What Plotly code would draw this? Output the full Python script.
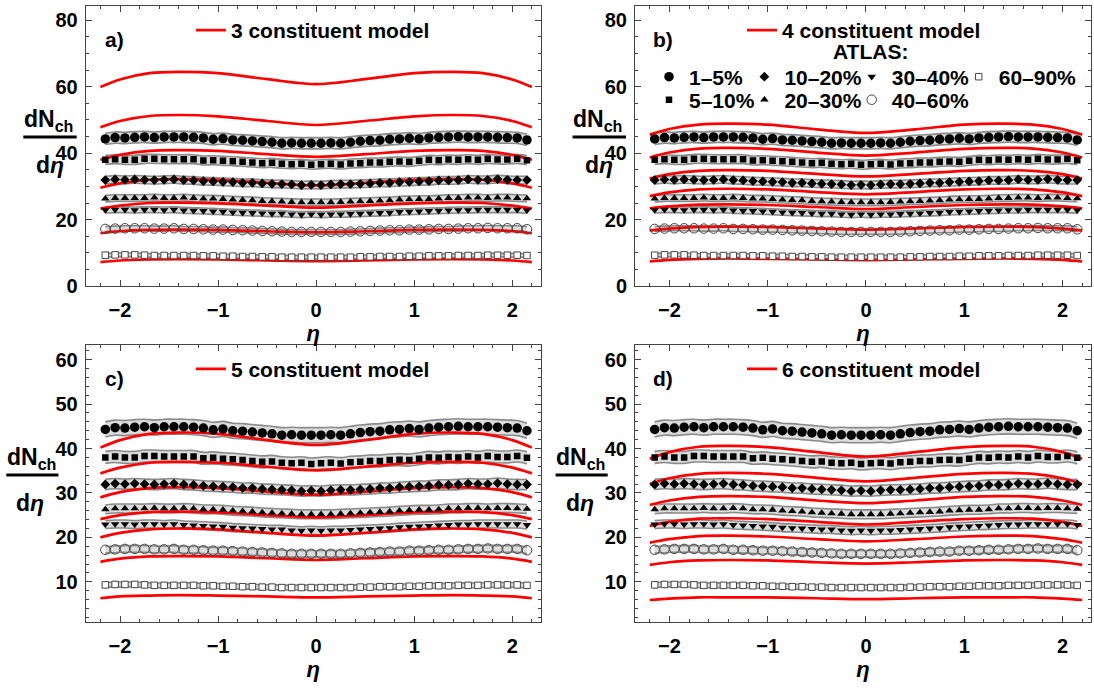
import plotly.graph_objects as go

W, H = 1094, 690
FONT = "Liberation Sans, Arial, sans-serif"

# ---------------- data ----------------
cent_labels = ["1–5%", "5–10%", "10–20%", "20–30%", "30–40%", "40–60%", "60–90%"]

eta_data = [-2.15, -2.05, -1.95, -1.85, -1.75, -1.65, -1.55, -1.45, -1.35, -1.25, -1.15,
            -1.05, -0.95, -0.85, -0.75, -0.65, -0.55, -0.45, -0.35, -0.25, -0.15, -0.05,
            0.05, 0.15, 0.25, 0.35, 0.45, 0.55, 0.65, 0.75, 0.85, 0.95, 1.05,
            1.15, 1.25, 1.35, 1.45, 1.55, 1.65, 1.75, 1.85, 1.95, 2.05, 2.15]

atlas_1_5 = [44.3, 44.7, 44.6, 44.8, 44.9, 44.7, 44.9, 44.9, 44.9, 44.8, 44.6, 44.2, 44.4, 44.0, 43.9,
             43.7, 43.5, 43.3, 43.0, 43.1, 43.0, 43.0, 43.0, 43.1, 43.0, 43.3, 43.6, 43.8, 43.9, 44.2,
             44.3, 44.5, 44.3, 44.6, 44.8, 44.9, 45.0, 44.9, 44.9, 44.9, 44.8, 44.7, 44.6, 44.0]
atlas_5_10 = [38.0, 38.2, 38.0, 38.0, 38.3, 38.3, 38.2, 38.2, 38.2, 38.2, 37.8, 37.9, 37.7, 37.6, 37.4,
              37.2, 37.0, 37.1, 36.8, 36.7, 36.8, 36.5, 36.7, 36.8, 36.6, 36.9, 37.0, 37.2, 37.2, 37.4,
              37.5, 37.4, 37.7, 38.0, 37.9, 38.1, 38.0, 38.2, 38.0, 38.3, 38.1, 38.1, 38.3, 37.9]
atlas_10_20 = [31.9, 32.1, 32.0, 32.1, 32.0, 31.9, 32.0, 32.1, 31.9, 31.8, 31.6, 31.5, 31.4, 31.3, 31.1,
               31.1, 30.9, 30.8, 30.7, 30.6, 30.4, 30.5, 30.4, 30.6, 30.7, 30.7, 30.8, 30.9, 31.1, 31.1,
               31.3, 31.4, 31.5, 31.6, 31.8, 31.8, 31.9, 32.1, 32.0, 32.0, 32.2, 32.0, 31.9, 31.9]
atlas_20_30 = [26.3, 26.5, 26.5, 26.5, 26.5, 26.6, 26.5, 26.5, 26.6, 26.5, 26.3, 26.3, 26.2, 26.0, 25.9,
               25.8, 25.6, 25.5, 25.4, 25.3, 25.2, 25.2, 25.2, 25.2, 25.3, 25.4, 25.5, 25.6, 25.7, 25.8,
               26.0, 26.1, 26.2, 26.2, 26.3, 26.5, 26.5, 26.6, 26.6, 26.5, 26.6, 26.6, 26.5, 26.4]
atlas_30_40 = [22.9, 23.0, 23.0, 22.9, 23.0, 23.0, 22.9, 23.0, 22.8, 22.7, 22.6, 22.5, 22.4, 22.2, 22.1,
               22.0, 21.9, 21.8, 21.8, 21.6, 21.5, 21.6, 21.5, 21.6, 21.6, 21.7, 21.8, 21.9, 22.0, 22.1,
               22.3, 22.4, 22.5, 22.6, 22.7, 22.8, 22.9, 22.9, 23.0, 23.0, 23.0, 23.0, 23.0, 22.8]
atlas_40_60 = [17.2, 17.3, 17.4, 17.4, 17.4, 17.3, 17.3, 17.4, 17.2, 17.2, 17.1, 17.0, 17.0, 16.9, 16.8,
               16.7, 16.6, 16.5, 16.4, 16.3, 16.3, 16.3, 16.3, 16.3, 16.3, 16.4, 16.5, 16.6, 16.7, 16.8,
               16.8, 17.0, 17.0, 17.1, 17.2, 17.2, 17.3, 17.4, 17.4, 17.5, 17.4, 17.4, 17.4, 17.1]
atlas_60_90 = [9.3, 9.4, 9.4, 9.4, 9.3, 9.2, 9.2, 9.2, 9.2, 9.2, 9.1, 9.1, 9.0, 9.0, 8.9,
               8.9, 8.8, 8.8, 8.7, 8.7, 8.7, 8.7, 8.7, 8.7, 8.7, 8.7, 8.8, 8.8, 8.9, 8.9,
               8.9, 9.0, 9.0, 9.1, 9.1, 9.1, 9.2, 9.2, 9.2, 9.3, 9.3, 9.3, 9.3, 9.2]
atlas_sys_err = [1.7, 1.35, 1.15, 1.0, 0.9, 0.75, 0.55]

eta_model = [-2.2, -2.0, -1.7, -1.4, -1.0, -0.5, 0.0, 0.5, 1.0, 1.4, 1.7, 2.0, 2.2]

model_3 = [
    [59.9, 62.2, 64.1, 64.5, 64.1, 62.3, 60.8, 62.3, 64.1, 64.5, 64.1, 62.2, 59.9],
    [47.8, 49.7, 51.2, 51.5, 51.1, 49.7, 48.5, 49.7, 51.1, 51.5, 51.2, 49.7, 47.8],
    [38.0, 39.5, 40.7, 40.9, 40.7, 39.7, 38.9, 39.7, 40.7, 40.9, 40.7, 39.5, 38.0],
    [29.6, 30.9, 32.0, 32.2, 32.0, 31.1, 30.3, 31.1, 32.0, 32.2, 32.0, 30.9, 29.6],
    [23.3, 24.2, 25.0, 25.1, 24.9, 24.2, 23.6, 24.2, 24.9, 25.1, 25.0, 24.2, 23.3],
    [15.9, 16.5, 16.9, 17.0, 16.9, 16.5, 16.2, 16.5, 16.9, 17.0, 16.9, 16.5, 15.9],
    [7.2, 7.7, 8.0, 8.1, 8.0, 7.7, 7.5, 7.7, 8.0, 8.1, 8.0, 7.7, 7.2],
]
model_4 = [
    [45.6, 47.3, 48.6, 48.9, 48.6, 47.2, 46.1, 47.2, 48.6, 48.9, 48.6, 47.3, 45.6],
    [38.7, 40.2, 41.4, 41.6, 41.3, 40.2, 39.3, 40.2, 41.3, 41.6, 41.4, 40.2, 38.7],
    [32.4, 33.7, 34.7, 34.9, 34.7, 33.8, 33.0, 33.8, 34.7, 34.9, 34.7, 33.7, 32.4],
    [27.1, 28.2, 29.1, 29.3, 29.1, 28.3, 27.6, 28.3, 29.1, 29.3, 29.1, 28.2, 27.1],
    [23.4, 24.0, 24.5, 24.6, 24.4, 23.8, 23.2, 23.8, 24.4, 24.6, 24.5, 24.0, 23.4],
    [16.7, 17.3, 17.8, 17.9, 17.8, 17.4, 17.0, 17.4, 17.8, 17.9, 17.8, 17.3, 16.7],
    [7.4, 7.9, 8.2, 8.3, 8.2, 8.0, 7.8, 8.0, 8.2, 8.3, 8.2, 7.9, 7.4],
]
model_5 = [
    [40.2, 41.9, 43.3, 43.6, 43.3, 41.9, 40.8, 41.9, 43.3, 43.6, 43.3, 41.9, 40.2],
    [34.4, 35.7, 36.8, 37.0, 36.8, 35.9, 35.1, 35.9, 36.8, 37.0, 36.8, 35.7, 34.4],
    [29.0, 30.2, 31.1, 31.3, 31.1, 30.3, 29.6, 30.3, 31.1, 31.3, 31.1, 30.2, 29.0],
    [24.1, 25.0, 25.7, 25.8, 25.6, 25.0, 24.5, 25.0, 25.6, 25.8, 25.7, 25.0, 24.1],
    [20.0, 21.0, 21.8, 22.0, 21.8, 21.0, 20.4, 21.0, 21.8, 22.0, 21.8, 21.0, 20.0],
    [14.5, 15.2, 15.7, 15.8, 15.7, 15.3, 14.9, 15.3, 15.7, 15.8, 15.7, 15.2, 14.5],
    [6.3, 6.7, 6.9, 7.0, 6.9, 6.7, 6.5, 6.7, 6.9, 7.0, 6.9, 6.7, 6.3],
]
model_6 = [
    [37.7, 39.2, 40.4, 40.6, 40.3, 39.2, 38.2, 39.2, 40.3, 40.6, 40.4, 39.2, 37.7],
    [32.0, 33.3, 34.3, 34.5, 34.3, 33.4, 32.6, 33.4, 34.3, 34.5, 34.3, 33.3, 32.0],
    [27.3, 28.3, 29.1, 29.3, 29.1, 28.3, 27.7, 28.3, 29.1, 29.3, 29.1, 28.3, 27.3],
    [22.6, 23.5, 24.2, 24.3, 24.1, 23.5, 22.9, 23.5, 24.1, 24.3, 24.2, 23.5, 22.6],
    [18.8, 19.6, 20.3, 20.4, 20.2, 19.6, 19.1, 19.6, 20.2, 20.4, 20.3, 19.6, 18.8],
    [13.8, 14.4, 14.8, 14.9, 14.8, 14.4, 14.1, 14.4, 14.8, 14.9, 14.8, 14.4, 13.8],
    [5.9, 6.2, 6.5, 6.5, 6.5, 6.3, 6.1, 6.3, 6.5, 6.5, 6.5, 6.2, 5.9],
]

panel_tags = ["a)", "b)", "c)", "d)"]
model_names = ["3 constituent model", "4 constituent model",
               "5 constituent model", "6 constituent model"]
models = [model_3, model_4, model_5, model_6]
atlas_series = [atlas_1_5, atlas_5_10, atlas_10_20, atlas_20_30,
                atlas_30_40, atlas_40_60, atlas_60_90]

x_ticks = [-2, -1, 0, 1, 2]
x_tick_text = ["−2", "−1", "0", "1", "2"]
y_ticks_top = [0, 20, 40, 60, 80]
y_ticks_bot = [10, 20, 30, 40, 50, 60]

# ---------------- styles ----------------
marker_styles = [
    dict(symbol="circle", size=9.5, color="black"),
    dict(symbol="square", size=6.5, color="black"),
    dict(symbol="diamond", size=7.5, color="black"),
    dict(symbol="triangle-up", size=7.5, color="black"),
    dict(symbol="triangle-down", size=7.5, color="black"),
    dict(symbol="circle-open", size=9.5, color="#444444", line=dict(width=1)),
    dict(symbol="square", size=6.5, color="white", line=dict(width=1, color="#444444")),
]


def px_x(p):
    return p / W


def px_y(p):
    return 1 - p / H


dom_x = [[px_x(85.7), px_x(540.7)], [px_x(635), px_x(1091)]]
dom_y_top = [px_y(290.7), px_y(6.5)]
dom_y_bot = [px_y(632.3), px_y(350.6)]

panels = [
    dict(xd=dom_x[0], yd=dom_y_top, yr=[0, 84.2], yt=y_ticks_top, ymd=5),
    dict(xd=dom_x[1], yd=dom_y_top, yr=[0, 84.2], yt=y_ticks_top, ymd=5),
    dict(xd=dom_x[0], yd=dom_y_bot, yr=[0.9, 63.3], yt=y_ticks_bot, ymd=2),
    dict(xd=dom_x[1], yd=dom_y_bot, yr=[0.9, 63.3], yt=y_ticks_bot, ymd=2),
]

fig = go.Figure()
legend_ids = ["legend", "legend2", "legend3", "legend4"]
atlas_legend_ids = [f"legend{5+k}" for k in range(7)]

for p in range(4):
    xa = "x" if p == 0 else f"x{p+1}"
    ya = "y" if p == 0 else f"y{p+1}"
    for k, ser in enumerate(atlas_series):
        err = atlas_sys_err[k]
        lo = [v - err for v in ser]
        hi = [v + err for v in ser]
        fig.add_trace(go.Scatter(x=eta_data, y=lo, xaxis=xa, yaxis=ya, mode="lines",
                                 line=dict(color="#8a8a8a", width=1.6, shape="spline"),
                                 showlegend=False, hoverinfo="skip"))
        fig.add_trace(go.Scatter(x=eta_data, y=hi, xaxis=xa, yaxis=ya, mode="lines",
                                 line=dict(color="#8a8a8a", width=1.6, shape="spline"),
                                 fill="tonexty", fillcolor="#dcdcdc",
                                 showlegend=False, hoverinfo="skip"))
    for j, curve in enumerate(models[p]):
        fig.add_trace(go.Scatter(x=eta_model, y=curve, xaxis=xa, yaxis=ya, mode="lines",
                                 line=dict(color="#ff0000", width=2.7, shape="spline"),
                                 name=model_names[p], legend=legend_ids[p],
                                 showlegend=(j == 0)))
    for k, ser in enumerate(atlas_series):
        fig.add_trace(go.Scatter(x=eta_data, y=ser, xaxis=xa, yaxis=ya, mode="markers",
                                 marker=marker_styles[k], name=cent_labels[k],
                                 legend=atlas_legend_ids[k],
                                 showlegend=(p == 1)))

axis_common = dict(showline=True, linecolor="#444444", linewidth=1, mirror="allticks",
                   ticks="inside", ticklen=6, tickwidth=1, tickcolor="#444444",
                   showgrid=False, zeroline=False,
                   tickfont=dict(family=FONT, size=20, color="black", weight="bold"))

layout = dict(width=W, height=H, margin=dict(l=0, r=0, t=0, b=0),
              paper_bgcolor="white", plot_bgcolor="white",
              font=dict(family=FONT, color="black"))

for p, pn in enumerate(panels):
    xk = "xaxis" if p == 0 else f"xaxis{p+1}"
    yk = "yaxis" if p == 0 else f"yaxis{p+1}"
    ya = "y" if p == 0 else f"y{p+1}"
    xa = "x" if p == 0 else f"x{p+1}"
    layout[xk] = dict(axis_common, domain=pn["xd"], anchor=ya, range=[-2.35, 2.29],
                      tickvals=x_ticks, ticktext=x_tick_text,
                      ticklabelstandoff=6,
                      minor=dict(dtick=0.2, tick0=0, ticks="inside", ticklen=3,
                                 tickcolor="#444444"),
                      title=dict(text="<i>η</i>", standoff=3,
                                 font=dict(family=FONT, size=22, weight="bold")))
    layout[yk] = dict(axis_common, domain=pn["yd"], anchor=xa, range=pn["yr"],
                      tickvals=pn["yt"], ticklabelstandoff=3,
                      minor=dict(dtick=pn["ymd"], tick0=0, ticks="inside", ticklen=3,
                                 tickcolor="#444444"))

leg_font = dict(family=FONT, size=21, color="black", weight="bold")
model_leg_pos = [(190.9, 31), (742, 31), (190.9, 375.3), (742, 375.3)]
for p, (lx, ly) in enumerate(model_leg_pos):
    layout[legend_ids[p]] = dict(x=px_x(lx), y=px_y(ly), xanchor="left", yanchor="middle",
                                 bgcolor="rgba(0,0,0,0)", font=leg_font, borderwidth=0)

# ATLAS key: column text starts and row centres (px)
col_text_x = [686, 781.4, 888.7, 995.7]
row_y = [78.3, 101.7]
atlas_key_cell = [(0, 0), (0, 1), (1, 0), (1, 1), (2, 0), (2, 1), (3, 0)]
for k, (c, r) in enumerate(atlas_key_cell):
    layout[atlas_legend_ids[k]] = dict(x=px_x(col_text_x[c] - 37), y=px_y(row_y[r]),
                                       xanchor="left", yanchor="middle",
                                       bgcolor="rgba(0,0,0,0)", font=leg_font,
                                       borderwidth=0, orientation="h")

ann = []
tag_pos = [(114, 40), (663.3, 40), (114, 384.5), (663.3, 384.5)]
for p, (tx, ty) in enumerate(tag_pos):
    ann.append(dict(text=panel_tags[p], x=px_x(tx), y=px_y(ty), xref="paper", yref="paper",
                    xanchor="center", yanchor="middle", showarrow=False,
                    font=dict(family=FONT, size=21, color="black", weight="bold")))
ann.append(dict(text="ATLAS:", x=px_x(870), y=px_y(52), xref="paper", yref="paper",
                xanchor="center", yanchor="middle", showarrow=False,
                font=dict(family=FONT, size=21, color="black", weight="bold")))

ylab_pos = [  # (num_x, num_y, den_x, den_y, bar_x0, bar_x1, bar_y)
    (48.3, 122, 50, 168, 23.3, 76.7, 139.3),
    (48.3 + 549.3, 122, 50 + 549.3, 168, 23.3 + 549.3, 76.7 + 549.3, 139.3),
    (31, 466, 30.3, 511, 6.3, 58.4, 482.6),
    (31 + 549.3, 466, 30.3 + 549.3, 511, 6.3 + 549.3, 58.4 + 549.3, 482.6),
]
shapes = []
for (nx, ny, dx, dy, bx0, bx1, by) in ylab_pos:
    ann.append(dict(text="dN<sub>ch</sub>", x=px_x(nx), y=px_y(ny), xref="paper", yref="paper",
                    xanchor="center", yanchor="middle", showarrow=False,
                    font=dict(family=FONT, size=23, color="black", weight="bold")))
    ann.append(dict(text="d<i>η</i>", x=px_x(dx), y=px_y(dy), xref="paper", yref="paper",
                    xanchor="center", yanchor="middle", showarrow=False,
                    font=dict(family=FONT, size=23, color="black", weight="bold")))
    shapes.append(dict(type="line", xref="paper", yref="paper",
                       x0=px_x(bx0), x1=px_x(bx1), y0=px_y(by), y1=px_y(by),
                       line=dict(color="black", width=3)))

layout["annotations"] = ann
layout["shapes"] = shapes
fig.update_layout(**layout)
fig.write_html("out.html", config={"displayModeBar": False},
               post_script="document.body.style.margin='0px';document.body.style.overflow='hidden';")
